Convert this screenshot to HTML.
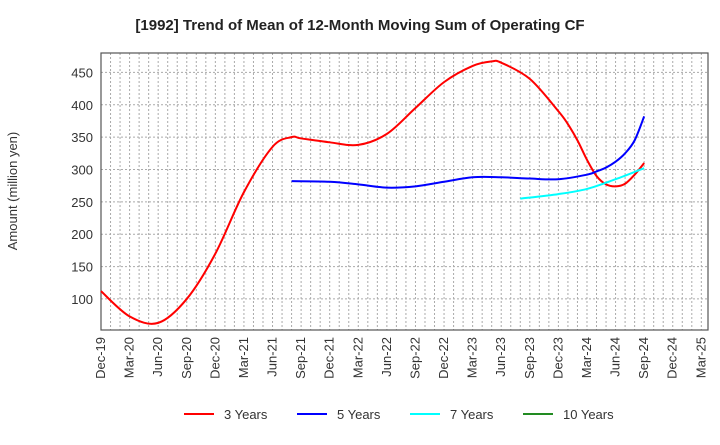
<!DOCTYPE html>
<html><head><meta charset="utf-8"><style>
body{margin:0;background:#fff;font-family:"Liberation Sans",sans-serif;}
</style></head><body>
<svg id="c" width="720" height="440" xmlns="http://www.w3.org/2000/svg">
<text x="360" y="30" text-anchor="middle" font-size="15" font-weight="bold" fill="#222">[1992]  Trend of Mean of 12-Month Moving Sum of Operating CF</text>
<text transform="translate(17,191) rotate(-90)" text-anchor="middle" font-size="13" fill="#333">Amount (million yen)</text>
<g id="grid"></g><g id="axes"></g><g id="series"></g>
<g>
<line x1="184" y1="414" x2="214" y2="414" stroke="#ff0000" stroke-width="2"/><text x="224" y="419" font-size="13" fill="#333">3 Years</text>
<line x1="297" y1="414" x2="327" y2="414" stroke="#0000ff" stroke-width="2"/><text x="337" y="419" font-size="13" fill="#333">5 Years</text>
<line x1="410" y1="414" x2="440" y2="414" stroke="#00ffff" stroke-width="2"/><text x="450" y="419" font-size="13" fill="#333">7 Years</text>
<line x1="523" y1="414" x2="553" y2="414" stroke="#228b22" stroke-width="2"/><text x="563" y="419" font-size="13" fill="#333">10 Years</text>
</g>
</svg>
<script>
const xLabels=["Dec-19","Mar-20","Jun-20","Sep-20","Dec-20","Mar-21","Jun-21","Sep-21","Dec-21","Mar-22","Jun-22","Sep-22","Dec-22","Mar-23","Jun-23","Sep-23","Dec-23","Mar-24","Jun-24","Sep-24","Dec-24","Mar-25"];
const yTicks=[100,150,200,250,300,350,400,450];
const m3=[0,3,6,9,12,15,18,20,21,24,27,30,33,36,39,41,42,45,48,49,50,51,52,53,54,55,56,57];
const v3=[112,73,63,100,170,265,335,350,348,342,338,355,395,435,460,467,465,440,390,370,345,315,290,277,274,278,292,310];
const m5=[20,24,27,30,33,36,39,42,45,48,51,52,53,54,55,56,57];
const v5=[282,281,277,272,274,281,288,288,286,285,292,297,303,312,325,345,382];
const m7=[44,48,51,54,57];
const v7=[255,262,270,285,302];
const m10=[];const v10=[];
const L=101,R=708,T=53,B=330,NM=63.7,YMIN=52,YMAX=480;
const X=m=>L+(R-L)*m/NM;
const Y=v=>B-(B-T)*(v-YMIN)/(YMAX-YMIN);
const NS="http://www.w3.org/2000/svg";
function mk(t,a,p){const e=document.createElementNS(NS,t);for(const k in a)e.setAttribute(k,a[k]);p.appendChild(e);return e;}
const grid=document.getElementById('grid'),axes=document.getElementById('axes'),ser=document.getElementById('series');
for(let m=1;m<NM;m++){const l=mk('line',{x1:X(m),x2:X(m),y1:T,y2:B,stroke:'#aaa','stroke-width':1,'stroke-dasharray':'2,2'},grid);

}
yTicks.forEach(v=>{const l=mk('line',{x1:L,x2:R,y1:Y(v),y2:Y(v),stroke:'#aaa','stroke-width':1,'stroke-dasharray':'2,2'},grid);


const t=mk('text',{x:L-8,y:Y(v)+5,'text-anchor':'end','font-size':13,fill:'#333'},axes);t.textContent=v;

});
xLabels.forEach((s,i)=>{const x=X(i*3);const t=mk('text',{transform:`translate(${x+4},${B+7}) rotate(-90)`,'text-anchor':'end','font-size':13,fill:'#333'},axes);t.textContent=s;

});
const fr=mk('rect',{x:L,y:T,width:R-L,height:B-T,fill:'none',stroke:'#555','stroke-width':1.2},axes);


function path(ms,vs){const p=ms.map((m,i)=>[X(m),Y(vs[i])]);if(p.length<2)return '';let d=`M${p[0][0]},${p[0][1]}`;
for(let i=0;i<p.length-1;i++){const p0=p[Math.max(0,i-1)],p1=p[i],p2=p[i+1],p3=p[Math.min(p.length-1,i+2)];
d+=` C${p1[0]+(p2[0]-p0[0])/6},${p1[1]+(p2[1]-p0[1])/6} ${p2[0]-(p3[0]-p1[0])/6},${p2[1]-(p3[1]-p1[1])/6} ${p2[0]},${p2[1]}`;}return d;}
[[m3,v3,'#ff0000','line-3-years'],[m5,v5,'#0000ff','line-5-years'],[m7,v7,'#00ffff','line-7-years'],[m10,v10,'#228b22','line-10-years']].forEach(([m,v,c,n])=>{
const e=mk('path',{d:path(m,v),fill:'none',stroke:c,'stroke-width':2},ser);

});
</script>
</body></html>
